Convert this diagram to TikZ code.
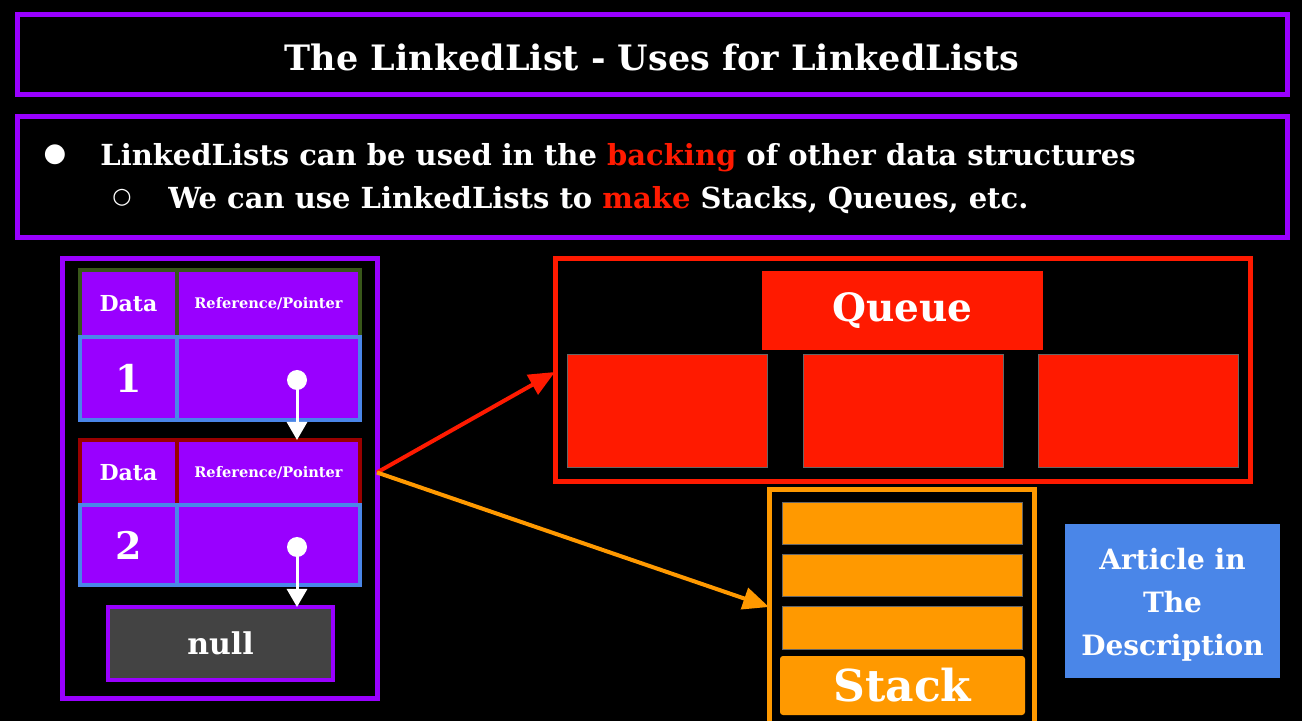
\documentclass[tikz,border=0pt]{standalone}
\usepackage{fontspec}
\setmainfont{DejaVu Serif}
\usetikzlibrary{arrows.meta}
\definecolor{ppl}{HTML}{9900FF}
\definecolor{qred}{HTML}{FF1A00}
\definecolor{org}{HTML}{FF9900}
\definecolor{gblue}{HTML}{4A86E8}
\definecolor{ggreen}{HTML}{38571A}
\definecolor{dred}{HTML}{990000}
\definecolor{ngray}{HTML}{434343}
\tikzset{
  box/.style={rectangle, inner sep=0pt, outer sep=0pt},
  frame/.style={box, draw=ppl, line width=2.5pt},
  cell/.style={box, fill=ppl, line width=2pt},
  wtxt/.style={text=white, font=\bfseries},
  qcell/.style={box, fill=qred, draw=black!60, line width=0.5pt, minimum width=100pt, minimum height=56.5pt},
  sbar/.style={box, fill=org, draw=black!60, line width=0.5pt, minimum width=120pt, minimum height=21pt},
  ptr/.style={white, line width=1.5pt, -{Triangle[width=10pt,length=9pt]}},
  dot/.style={circle, fill=white, inner sep=0pt, minimum size=10pt},
}
\begin{document}
\begin{tikzpicture}[x=0.5pt,y=-0.5pt]
\fill[black] (0,0) rectangle (1302,721);
\useasboundingbox (0,0) rectangle (1302,721);
% title
\node[frame, minimum width=635pt, minimum height=40pt] (title) at (652,55) {};
\node[wtxt, anchor=base, font=\bfseries\fontsize{17.5}{21}\selectfont] (titletxt) at (652,71) {The LinkedList - Uses for LinkedLists};
% bullets
\node[frame, minimum width=635pt, minimum height=60.5pt] (bullets) at (652,177.5) {};
\node[text=white, font=\fontsize{13}{16}\selectfont] (b1) at (55,155) {●};
\node[wtxt, anchor=base west, inner sep=0pt, font=\bfseries\fontsize{14.5}{18}\selectfont] (l1) at (100,166) {LinkedLists can be used in the \textcolor{qred}{backing} of other data structures};
\node[text=white, font=\fontsize{11}{14}\selectfont] (b2) at (122,198) {○};
\node[wtxt, anchor=base west, inner sep=0pt, font=\bfseries\fontsize{14.5}{18}\selectfont] (l2) at (168,209) {We can use LinkedLists to \textcolor{qred}{make} Stacks, Queues, etc.};
% linked list
\node[frame, minimum width=157.5pt, minimum height=219.5pt] (llbox) at (219.5,478.5) {};
\node[cell, draw=ggreen, minimum width=48.5pt, minimum height=33.5pt, wtxt, font=\bfseries\fontsize{11}{13}\selectfont] (h1d) at (128.5,303.5) {Data};
\node[cell, draw=ggreen, minimum width=91.5pt, minimum height=33.5pt, wtxt, font=\bfseries\fontsize{7.3}{9}\selectfont] (h1r) at (268.5,303.5) {Reference/Pointer};
\node[cell, draw=gblue, minimum width=48.5pt, minimum height=41.5pt, wtxt, font=\bfseries\fontsize{19}{22}\selectfont] (r1d) at (128.5,378.5) {1};
\node[cell, draw=gblue, minimum width=91.5pt, minimum height=41.5pt] (r1r) at (268.5,378.5) {};
\node[cell, draw=dred, minimum width=48.5pt, minimum height=32.5pt, wtxt, font=\bfseries\fontsize{11}{13}\selectfont] (h2d) at (128.5,472.5) {Data};
\node[cell, draw=dred, minimum width=91.5pt, minimum height=32.5pt, wtxt, font=\bfseries\fontsize{7.3}{9}\selectfont] (h2r) at (268.5,472.5) {Reference/Pointer};
\node[cell, draw=gblue, minimum width=48.5pt, minimum height=40pt, wtxt, font=\bfseries\fontsize{19}{22}\selectfont] (r2d) at (128.5,545) {2};
\node[cell, draw=gblue, minimum width=91.5pt, minimum height=40pt] (r2r) at (268.5,545) {};
\node[box, fill=ngray, draw=ppl, line width=2pt, minimum width=112.5pt, minimum height=36.5pt, wtxt, font=\bfseries\fontsize{15}{18}\selectfont] (null) at (220.5,643.5) {null};
\node[dot] (d1) at (297,380) {};
\node[dot] (d2) at (297,547) {};
\draw[ptr] (d1.center) -- (d1 |- h2r.north);
\draw[ptr] (d2.center) -- (d2 |- null.north);
% queue
\node[box, draw=qred, line width=2.5pt, minimum width=347.5pt, minimum height=111.5pt] (qbox) at (902.5,370.5) {};
\node[box, fill=qred, minimum width=140.5pt, minimum height=39.5pt, wtxt, font=\bfseries\fontsize{19.5}{24}\selectfont] (qlabel) at (902.5,310.5) {Queue};
\node[qcell] (q1) at (667,411.5) {};
\node[qcell] (q2) at (903,411.5) {};
\node[qcell] (q3) at (1138,411.5) {};
% stack
\node[box, draw=org, line width=2.5pt, minimum width=132.5pt, minimum height=120pt] (sbox) at (901.5,610) {};
\node[sbar] (s1) at (902,524) {};
\node[sbar] (s2) at (902,576) {};
\node[sbar] (s3) at (902,628) {};
\node[box, fill=org, rounded corners=1.5pt, minimum width=122.5pt, minimum height=29.5pt, wtxt, font=\bfseries\fontsize{22}{26}\selectfont] (slabel) at (902.5,685.5) {Stack};
% article
\node[box, fill=gblue, minimum width=107.5pt, minimum height=77pt, wtxt, align=center, font=\bfseries\fontsize{14}{21.5}\selectfont] (article) at (1172.5,601) {};
\node[wtxt, align=center, font=\bfseries\fontsize{14}{21.5}\selectfont] (articletxt) at (1172.5,605) {Article in\\The\\Description};
% connectors
\coordinate (src) at (llbox.east |- h2r);
\draw[qred, line width=2pt, -{Triangle[width=11pt,length=13pt]}] (src) -- (qbox.west |- 0,372);
\draw[org, line width=2pt, -{Triangle[width=11pt,length=13pt]}] (src) -- (sbox.west |- s3.north);
\end{tikzpicture}
\end{document}
